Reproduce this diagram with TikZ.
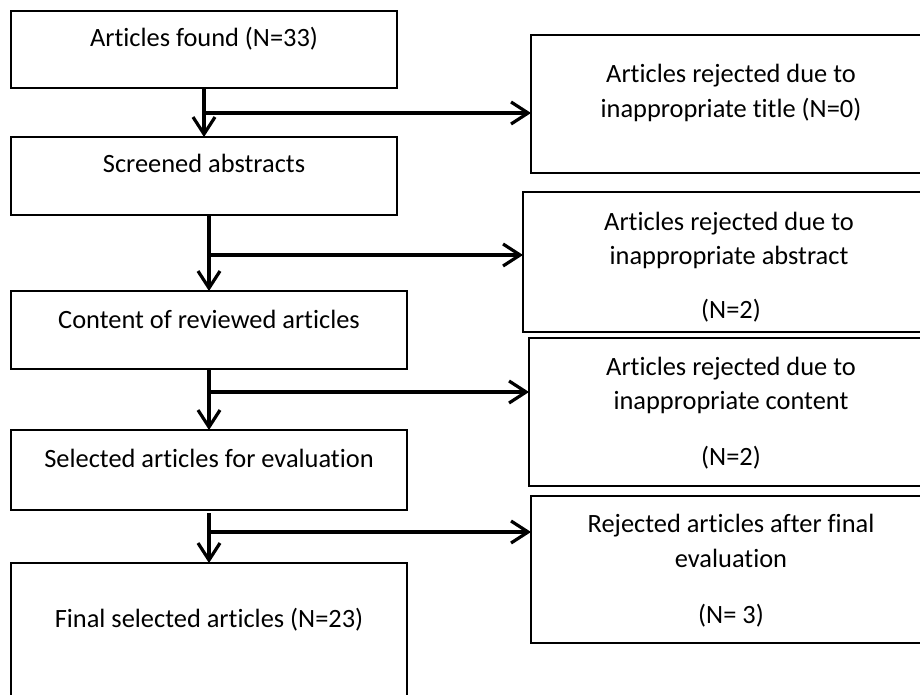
\documentclass[tikz,border=0pt]{standalone}
\usepackage{fontspec}
\setmainfont{Carlito}[Ligatures=NoCommon]
\usetikzlibrary{arrows.meta}
\begin{document}
\begin{tikzpicture}[x=1pt,y=-1pt,
  box/.style={draw=black, line width=2.3pt, inner sep=0pt, outer sep=0pt, rectangle},
  lbl/.style={anchor=base, inner sep=0pt, font=\fontsize{26.4}{32}\selectfont},
  conn/.style={line width=3.2pt, -{Straight Barb[length=17pt,width=22pt,line width=3.2pt]}}]
\fill[white] (0,0) rectangle (920,695);
\useasboundingbox (0,0) rectangle (920,695);
% left boxes
\node[box, minimum width=386pt, minimum height=77pt] (b1) at (204,49.5) {};
\node[box, minimum width=386pt, minimum height=78pt] (b2) at (204,176) {};
\node[box, minimum width=396pt, minimum height=78pt] (b3) at (209,330) {};
\node[box, minimum width=396pt, minimum height=80pt] (b4) at (209,470) {};
\node[box, minimum width=396pt, minimum height=160pt] (b5) at (209,643) {};
% right boxes
\node[box, minimum width=400pt, minimum height=138pt] (r1) at (731,104) {};
\node[box, minimum width=410pt, minimum height=140pt] (r2) at (728,262) {};
\node[box, minimum width=404pt, minimum height=148pt] (r3) at (731,412) {};
\node[box, minimum width=400pt, minimum height=147pt] (r4) at (731,569.5) {};
% texts
\node[lbl] (t1) at (204,47) {Articles found (N=33)};
\node[lbl] (t2) at (204,173) {Screened abstracts};
\node[lbl] (t3) at (209,328) {Content of reviewed articles};
\node[lbl] (t4) at (209,467) {Selected articles for evaluation};
\node[lbl] (t5) at (209,627) {Final selected articles (N=23)};
\node[lbl] (s1a) at (731,83) {Articles rejected due to};
\node[lbl] (s1b) at (731,118) {inappropriate title (N=0)};
\node[lbl] (s2a) at (729,230) {Articles rejected due to};
\node[lbl] (s2b) at (729,264) {inappropriate abstract};
\node[lbl] (s2c) at (731,318) {(N=2)};
\node[lbl] (s3a) at (731,375) {Articles rejected due to};
\node[lbl] (s3b) at (731,409) {inappropriate content};
\node[lbl] (s3c) at (731,465) {(N=2)};
\node[lbl] (s4a) at (731,532) {Rejected articles after final};
\node[lbl] (s4b) at (731,567) {evaluation};
\node[lbl] (s4c) at (731,623) {(N= 3)};
% vertical connectors
\draw[conn] (b1.south) -- (b1.south |- b2.north);
\draw[conn] (b3.north |- b2.south) -- (b3.north);
\draw[conn] (b3.south) -- (b4.north);
\draw[conn] ([yshift=-3pt]b4.south) -- (b5.north);
% branch connectors
\coordinate (j1) at (204,113);
\coordinate (j2) at (209,255);
\coordinate (j3) at (209,392);
\coordinate (j4) at (209,532);
\draw[conn] (j1) -- (j1 -| r1.west);
\draw[conn] (j2) -- (j2 -| r2.west);
\draw[conn] (j3) -- (j3 -| r3.west);
\draw[conn] (j4) -- (j4 -| r4.west);
\end{tikzpicture}
\end{document}
